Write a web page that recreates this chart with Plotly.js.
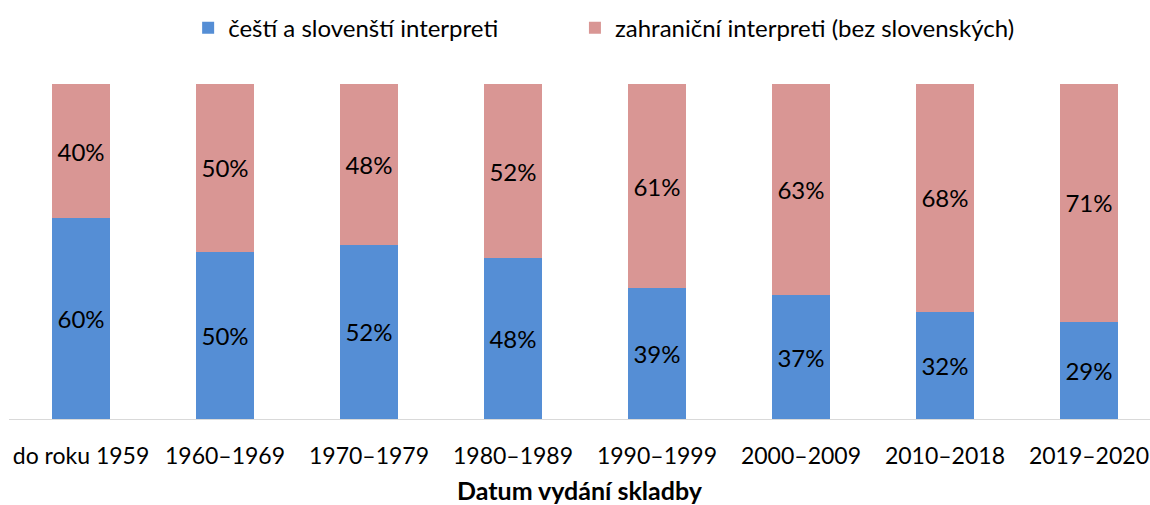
<!DOCTYPE html>
<html>
<head>
<meta charset="utf-8">
<script src="https://cdn.plot.ly/plotly-3.0.1.min.js"></script>
<style>html,body{margin:0;padding:0;background:#fff;}#chart{width:1150px;height:505px;}</style>
</head>
<body>
<div id="chart"></div>
<script>
const categories = ["do roku 1959", "1960–1969", "1970–1979", "1980–1989", "1990–1999", "2000–2009", "2010–2018", "2019–2020"];
const domestic = [60, 50, 52, 48, 39, 37, 32, 29];
const foreign = [40, 50, 48, 52, 61, 63, 68, 71];
const seriesNames = ["čeští a slovenští interpreti", "zahraniční interpreti (bez slovenských)"];
const xTitle = "Datum vydání skladby";

const FONT = "Lato, 'Open Sans', sans-serif";
const lbl = v => v.map(x => x + "%");

const common = {
  type: "bar",
  x: categories,
  textposition: "inside",
  insidetextanchor: "middle",
  textangle: 0,
  constraintext: "none",
  textfont: {family: FONT, size: 24, color: "#000"},
  hoverinfo: "skip",
  marker: {line: {width: 0}}
};

const data = [
  Object.assign({}, common, {y: domestic, text: lbl(domestic), name: seriesNames[0], marker: {color: "#558ED5"}, legend: "legend"}),
  Object.assign({}, common, {y: foreign, text: lbl(foreign), name: seriesNames[1], marker: {color: "#D99694"}, legend: "legend2"})
];

const legendBase = {
  orientation: "h",
  yanchor: "middle",
  y: 1.167,
  xanchor: "left",
  font: {family: FONT, size: 24, color: "#000"},
  bgcolor: "rgba(0,0,0,0)",
  itemwidth: 30
};

const layout = {
  width: 1150,
  height: 505,
  margin: {l: 9, r: 0, t: 84, b: 86, autoexpand: false},
  paper_bgcolor: "#fff",
  plot_bgcolor: "#fff",
  barmode: "stack",
  bargap: 0.6,
  font: {family: FONT, size: 24, color: "#000"},
  xaxis: {
    type: "category",
    range: [-0.5, 7.424],
    showline: true,
    linecolor: "#D9D9D9",
    linewidth: 1,
    ticks: "",
    showgrid: false,
    ticklabelstandoff: 16,
    tickfont: {family: FONT, size: 23, color: "#000"},
    title: {text: "<b>" + xTitle + "</b>", font: {family: FONT, size: 25, color: "#000"}, standoff: 19},
    fixedrange: true,
    automargin: false
  },
  yaxis: {
    range: [0, 100],
    visible: false,
    showgrid: false,
    zeroline: false,
    fixedrange: true
  },
  showlegend: true,
  legend: Object.assign({}, legendBase, {x: 0.157}),
  legend2: Object.assign({}, legendBase, {x: 0.496})
};

Plotly.newPlot("chart", data, layout, {displayModeBar: false, staticPlot: true});
</script>
</body>
</html>
